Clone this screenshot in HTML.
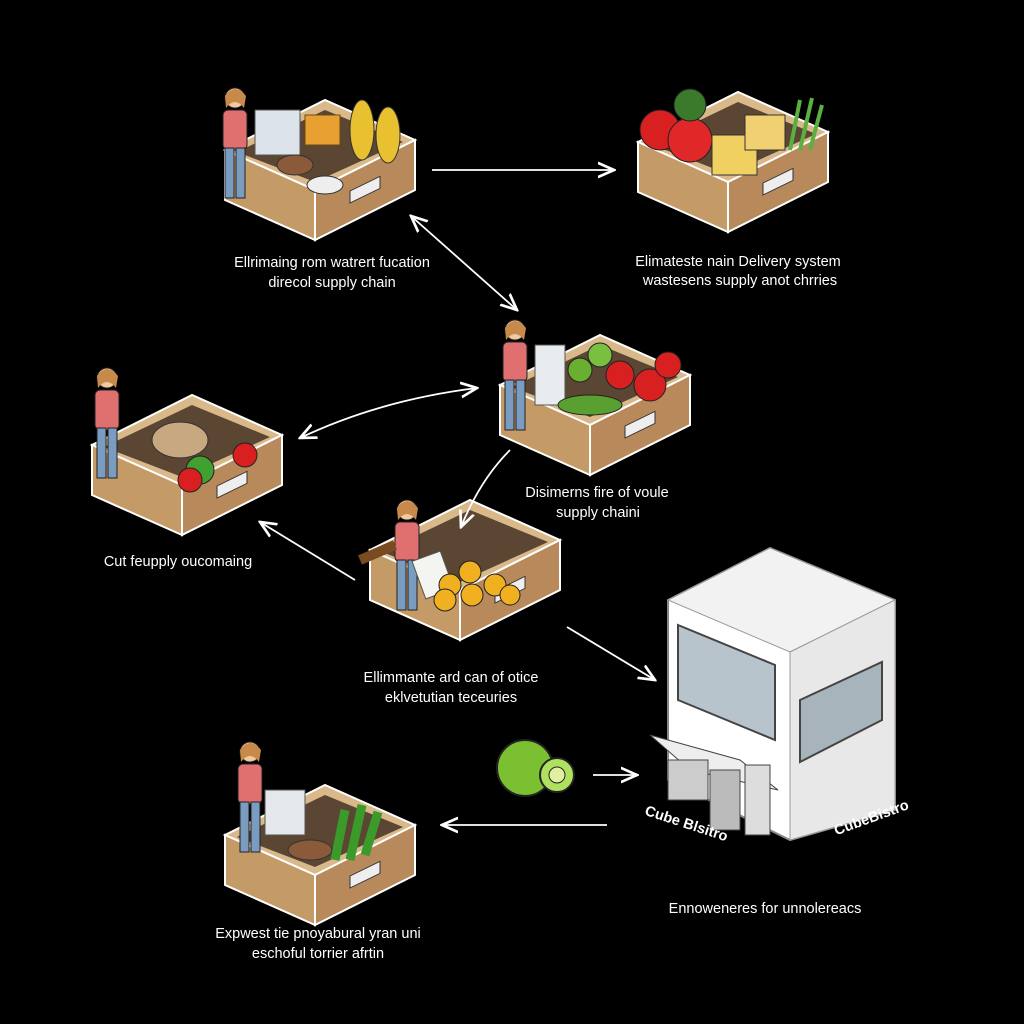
<!DOCTYPE html>
<html><head><meta charset="utf-8"><style>
html,body{margin:0;padding:0;background:#000;width:1024px;height:1024px;overflow:hidden}
text{font-family:"Liberation Sans",sans-serif;fill:#fff;font-size:14.5px}
</style></head><body>
<svg width="1024" height="1024" viewBox="0 0 1024 1024" xmlns="http://www.w3.org/2000/svg">
<defs>
<marker id="a" markerWidth="10" markerHeight="10" refX="9" refY="5" orient="auto-start-reverse"><path d="M0,1 L9,5 L0,9" fill="none" stroke="#fff" stroke-width="1.5"/></marker>
<g id="crate">
 <!-- generic isometric crate 190 wide -->
 <polygon points="0,50 100,0 190,40 90,90" fill="#d9b98a" stroke="#fff" stroke-width="2"/>
 <polygon points="0,50 90,90 90,140 0,100" fill="#c49a66" stroke="#fff" stroke-width="2"/>
 <polygon points="90,90 190,40 190,90 90,140" fill="#b8895a" stroke="#fff" stroke-width="2"/>
 <polygon points="12,52 100,10 178,42 90,82" fill="#5a4632"/>
 <rect x="125" y="82" width="30" height="12" fill="#eee" stroke="#333" transform="skewY(-26) translate(0,70)"/>
</g>
<g id="person">
 <circle cx="15" cy="10" r="10" fill="#f2c9a0" stroke="#222"/>
 <path d="M5,8 Q15,-6 26,8 L24,20 Q15,8 6,20Z" fill="#c88a4a"/>
 <rect x="3" y="22" width="24" height="40" rx="5" fill="#e07070" stroke="#222"/>
 <rect x="5" y="60" width="9" height="50" fill="#7a9cc0" stroke="#222"/>
 <rect x="16" y="60" width="9" height="50" fill="#7a9cc0" stroke="#222"/>
</g>
</defs>

<!-- crate 1 top-left -->
<use href="#crate" x="225" y="100"/>
<g transform="translate(220,88)"><use href="#person"/></g>
<rect x="255" y="110" width="45" height="45" fill="#dde3ea" stroke="#555"/>
<rect x="305" y="115" width="35" height="30" fill="#e8a030" stroke="#6a4a10"/>
<ellipse cx="362" cy="130" rx="12" ry="30" fill="#e8c030" stroke="#333"/>
<ellipse cx="388" cy="135" rx="12" ry="28" fill="#e8c030" stroke="#333"/>
<ellipse cx="295" cy="165" rx="18" ry="10" fill="#8a5a3a" stroke="#333"/>
<ellipse cx="325" cy="185" rx="18" ry="9" fill="#eee" stroke="#333"/>

<!-- crate 2 top-right -->
<use href="#crate" x="638" y="92"/>
<circle cx="660" cy="130" r="20" fill="#d82020" stroke="#222"/>
<circle cx="690" cy="140" r="22" fill="#e02828" stroke="#222"/>
<circle cx="690" cy="105" r="16" fill="#3a7a2a" stroke="#222"/>
<rect x="712" y="135" width="45" height="40" fill="#f0d060" stroke="#333"/>
<rect x="745" y="115" width="40" height="35" fill="#f0d070" stroke="#333"/>
<path d="M790,150 L800,100 M800,150 L812,98 M810,150 L822,105" stroke="#5ab040" stroke-width="4"/>

<!-- crate 3 middle -->
<use href="#crate" x="500" y="335"/>
<g transform="translate(500,320)"><use href="#person"/></g>
<rect x="535" y="345" width="30" height="60" fill="#e8ecef" stroke="#555"/>
<circle cx="600" cy="355" r="12" fill="#7ac040" stroke="#222"/>
<circle cx="580" cy="370" r="12" fill="#6ab030" stroke="#222"/>
<circle cx="620" cy="375" r="14" fill="#d82020" stroke="#222"/>
<circle cx="650" cy="385" r="16" fill="#d82020" stroke="#222"/>
<circle cx="668" cy="365" r="13" fill="#d82020" stroke="#222"/>
<ellipse cx="590" cy="405" rx="32" ry="10" fill="#5aa030" stroke="#222"/>

<!-- crate 4 left -->
<use href="#crate" x="92" y="395"/>
<g transform="translate(92,368)"><use href="#person"/></g>
<ellipse cx="180" cy="440" rx="28" ry="18" fill="#c8a880" stroke="#333"/>
<circle cx="200" cy="470" r="14" fill="#40a030" stroke="#222"/>
<circle cx="190" cy="480" r="12" fill="#d82020" stroke="#222"/>
<circle cx="245" cy="455" r="12" fill="#d82020" stroke="#222"/>

<!-- crate 5 center -->
<use href="#crate" x="370" y="500"/>
<g transform="translate(392,500)"><use href="#person"/></g>
<path d="M360,560 L395,545" stroke="#7a4a20" stroke-width="10"/>
<rect x="418" y="555" width="30" height="40" fill="#f4f4f0" stroke="#555" transform="rotate(-20 433 575)"/>
<circle cx="450" cy="585" r="11" fill="#f0b020" stroke="#222"/>
<circle cx="472" cy="595" r="11" fill="#f0b020" stroke="#222"/>
<circle cx="495" cy="585" r="11" fill="#f0b020" stroke="#222"/>
<circle cx="470" cy="572" r="11" fill="#f0b020" stroke="#222"/>
<circle cx="445" cy="600" r="11" fill="#f0b020" stroke="#222"/>
<circle cx="510" cy="595" r="10" fill="#f0b020" stroke="#222"/>

<!-- crate 6 bottom-left -->
<use href="#crate" x="225" y="785"/>
<g transform="translate(235,742)"><use href="#person"/></g>
<rect x="265" y="790" width="40" height="45" fill="#e4e8ec" stroke="#555"/>
<ellipse cx="310" cy="850" rx="22" ry="10" fill="#8a5a3a" stroke="#333"/>
<path d="M335,860 L345,810 M350,860 L362,805 M365,855 L378,812" stroke="#3a9a2a" stroke-width="9"/>

<!-- fruit -->
<circle cx="525" cy="768" r="28" fill="#7ac030" stroke="#222" stroke-width="2"/>
<circle cx="557" cy="775" r="17" fill="#b0e060" stroke="#222" stroke-width="2"/>
<circle cx="557" cy="775" r="8" fill="#e0f0a0" stroke="#222"/>

<!-- kiosk -->
<polygon points="668,600 770,548 895,600 895,810 790,840 668,780" fill="#fff" stroke="#888" stroke-width="2"/>
<polygon points="668,600 770,548 895,600 790,652" fill="#f2f2f2" stroke="#999"/>
<polygon points="790,652 895,600 895,810 790,840" fill="#e8e8e8" stroke="#999"/>
<polygon points="678,625 775,665 775,740 678,700" fill="#b8c4cc" stroke="#444" stroke-width="2"/>
<polygon points="800,700 882,662 882,720 800,762" fill="#a8b4bc" stroke="#444" stroke-width="2"/>
<polygon points="650,735 740,760 778,790 690,770" fill="#eee" stroke="#444"/>
<rect x="668" y="760" width="40" height="40" fill="#ccc" stroke="#444"/>
<rect x="710" y="770" width="30" height="60" fill="#bbb" stroke="#444"/>
<rect x="745" y="765" width="25" height="70" fill="#ddd" stroke="#444"/>

<!-- arrows -->
<g stroke="#fff" stroke-width="1.8" fill="none">
<line x1="432" y1="170" x2="614" y2="170" marker-end="url(#a)"/>
<line x1="411" y1="216" x2="517" y2="310" marker-start="url(#a)" marker-end="url(#a)"/>
<path d="M300,438 Q380,400 477,388" marker-start="url(#a)" marker-end="url(#a)"/>
<path d="M510,450 Q480,480 461,527" marker-end="url(#a)"/>
<line x1="355" y1="580" x2="260" y2="522" marker-end="url(#a)"/>
<line x1="567" y1="627" x2="655" y2="680" marker-end="url(#a)"/>
<line x1="593" y1="775" x2="637" y2="775" marker-end="url(#a)"/>
<line x1="607" y1="825" x2="442" y2="825" marker-end="url(#a)"/>
</g>

<!-- labels -->
<g text-anchor="middle">
<text x="332" y="267">Ellrimaing rom watrert fucation</text>
<text x="332" y="287">direcol supply chain</text>
<text x="738" y="266">Elimateste nain Delivery system</text>
<text x="740" y="285">wastesens supply anot chrries</text>
<text x="597" y="497">Disimerns fire of voule</text>
<text x="598" y="517">supply chaini</text>
<text x="178" y="566">Cut feupply oucomaing</text>
<text x="451" y="682">Ellimmante ard can of otice</text>
<text x="451" y="702">eklvetutian teceuries</text>
<text x="765" y="913">Ennoweneres for unnolereacs</text>
<text x="318" y="938">Expwest tie pnoyabural yran uni</text>
<text x="318" y="958">eschoful torrier afrtin</text>
<text x="685" y="828" transform="rotate(18 685 828)" font-weight="bold">Cube Blsitro</text>
<text x="873" y="822" transform="rotate(-20 873 822)" font-weight="bold">CubeBistro</text>
</g>
</svg>
</body></html>
